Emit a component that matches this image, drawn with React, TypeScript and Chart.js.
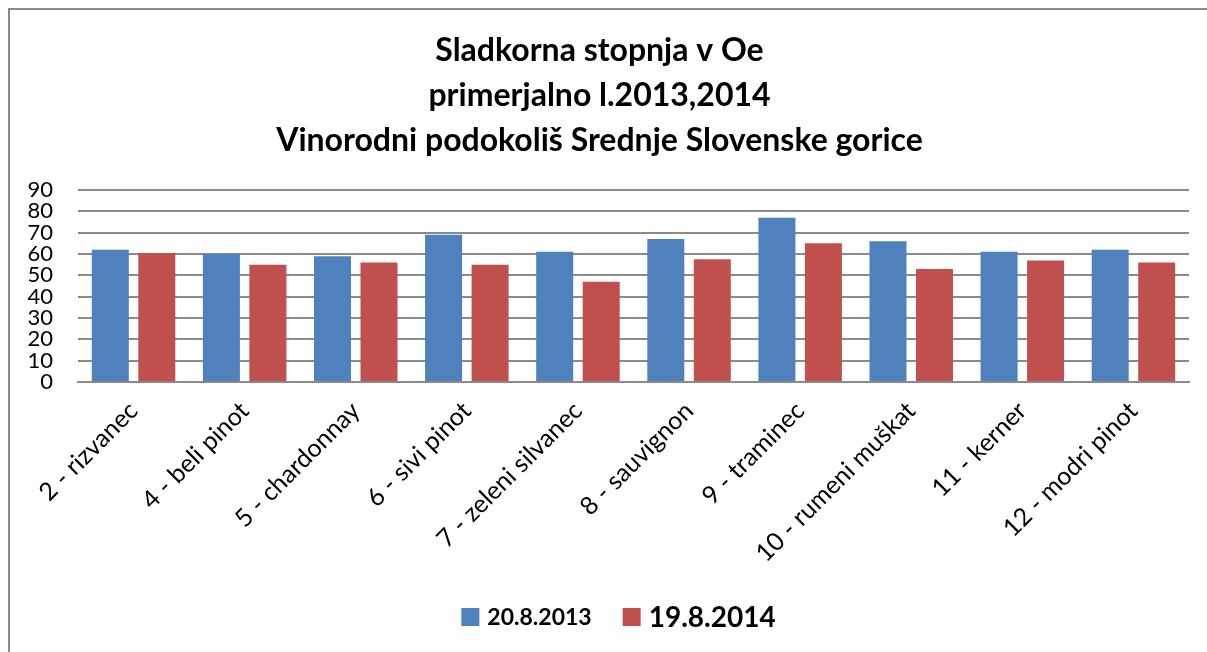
import React, { useEffect, useRef } from "react";
import { Chart, registerables } from "chart.js";

Chart.register(...registerables);

const titleLines = [
  "Sladkorna stopnja v Oe",
  "primerjalno l.2013,2014",
  "Vinorodni podokoliš Srednje Slovenske gorice",
];

const categories = [
  "2 - rizvanec",
  "4 - beli pinot",
  "5 - chardonnay",
  "6 - sivi pinot",
  "7 - zeleni silvanec",
  "8 - sauvignon",
  "9 - traminec",
  "10 - rumeni muškat",
  "11 - kerner",
  "12 - modri pinot",
];

const series2013Label = "20.8.2013";
const series2013 = [62, 60, 59, 69, 61, 67, 77, 66, 61, 62];

const series2014Label = "19.8.2014";
const series2014 = [60.5, 55, 56, 55, 47, 57.5, 65, 53, 57, 56];

const yMin = 0;
const yMax = 90;
const yStep = 10;

const FONT = "Lato, 'Open Sans', sans-serif";

const legendPlugin = {
  id: "customLegend",
  afterDraw(chart: any) {
    const ctx = chart.ctx;
    const sizes = [23, 28];
    const box = 18;
    const boxGap = 8;
    const itemGap = 31;
    const cy = 607;
    const items = chart.data.datasets.map((ds: any, i: number) => {
      ctx.font = `bold ${sizes[i]}px ${FONT}`;
      const w = ctx.measureText(ds.label).width;
      return { label: ds.label, color: ds.backgroundColor, size: sizes[i], w };
    });
    const total =
      items.reduce((s: number, it: any) => s + box + boxGap + it.w, 0) +
      itemGap * (items.length - 1);
    let x = chart.width / 2 + 10 - total / 2;
    ctx.save();
    items.forEach((it: any) => {
      ctx.fillStyle = it.color;
      ctx.fillRect(x, cy - box / 2, box, box);
      x += box + boxGap;
      ctx.font = `bold ${it.size}px ${FONT}`;
      ctx.fillStyle = "#000";
      ctx.textAlign = "left";
      ctx.textBaseline = "middle";
      ctx.fillText(it.label, x, cy + 1);
      x += it.w + itemGap;
    });
    ctx.restore();
  },
};

export default function App() {
  const canvasRef = useRef<HTMLCanvasElement | null>(null);

  useEffect(() => {
    document.documentElement.style.overflow = "hidden";
    document.body.style.overflow = "hidden";
    const canvas = canvasRef.current;
    if (!canvas) return;
    const chart = new Chart(canvas, {
      type: "bar",
      data: {
        labels: categories,
        datasets: [
          {
            label: series2013Label,
            data: series2013,
            backgroundColor: "#4F81BD",
            borderWidth: 0,
            categoryPercentage: 0.837,
            barPercentage: 0.796,
          },
          {
            label: series2014Label,
            data: series2014,
            backgroundColor: "#C0504D",
            borderWidth: 0,
            categoryPercentage: 0.837,
            barPercentage: 0.796,
          },
        ],
      },
      plugins: [legendPlugin],
      options: {
        animation: false,
        responsive: false,
        maintainAspectRatio: false,
        devicePixelRatio: 1,
        layout: { padding: { left: 0, right: 18, top: 0, bottom: 62 } },
        plugins: {
          legend: { display: false },
          tooltip: { enabled: false },
          title: {
            display: true,
            text: titleLines,
            color: "#000",
            font: { family: FONT, size: 32, weight: "bold", lineHeight: "45px" },
            padding: { top: 18, bottom: 27 },
          },
        },
        scales: {
          x: {
            grid: { display: false, drawTicks: false },
            border: { display: true, color: "#8a8a8a", width: 2 },
            ticks: {
              color: "#000",
              font: { family: FONT, size: 25 },
              minRotation: 45,
              maxRotation: 45,
              autoSkip: false,
              padding: 14,
            },
            afterFit: (scale: any) => {
              scale.height = 208;
            },
          },
          y: {
            min: yMin,
            max: yMax,
            grid: { color: "#8a8a8a", lineWidth: 2, drawTicks: false },
            border: { display: false },
            ticks: {
              stepSize: yStep,
              autoSkip: false,
              color: "#000",
              font: { family: FONT, size: 22, lineHeight: 1 },
              padding: 25,
            },
            afterFit: (scale: any) => {
              scale.width = 68;
            },
          },
        },
      },
    });
    return () => chart.destroy();
  }, []);

  return (
    <div
      style={{
        position: "absolute",
        left: 8,
        top: 8,
        width: 1220,
        height: 660,
        borderTop: "2px solid #8a8a8a",
        borderLeft: "2px solid #8a8a8a",
        overflow: "hidden",
      }}
    >
      <canvas ref={canvasRef} width={1197} height={642} style={{ display: "block" }} />
    </div>
  );
}
